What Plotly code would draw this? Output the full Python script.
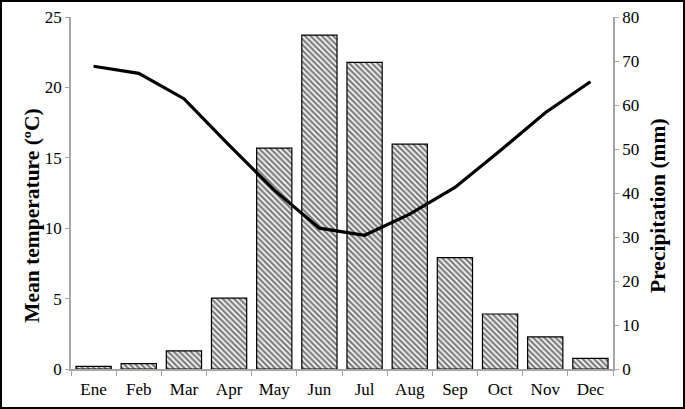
import plotly.graph_objects as go

months = ["Ene", "Feb", "Mar", "Apr", "May", "Jun", "Jul", "Aug", "Sep", "Oct", "Nov", "Dec"]
precipitation = [0.6, 1.2, 4.1, 16.1, 50.2, 75.9, 69.7, 51.1, 25.3, 12.5, 7.3, 2.4]
temperature = [21.5, 21.0, 19.2, 15.9, 12.7, 10.0, 9.5, 11.0, 12.9, 15.5, 18.2, 20.4]

FONT = "Liberation Serif, Times New Roman, serif"
AXC = "#a6a6a6"

fig = go.Figure()
# bars on the primary axis (drawn first), line on the overlaying axis (drawn on top)
fig.add_trace(go.Bar(
    x=months, y=precipitation, yaxis="y",
    marker=dict(color="white", line=dict(color="black", width=1.2),
                pattern=dict(shape="\\", fgcolor="black", bgcolor="white", size=4, solidity=0.6)),
    showlegend=False,
))
fig.add_trace(go.Scatter(
    x=months, y=temperature, mode="lines", yaxis="y2",
    line=dict(color="black", width=3.2), showlegend=False,
))

fig.update_layout(
    width=685, height=409,
    margin=dict(l=71, r=72, t=17, b=40),
    paper_bgcolor="white", plot_bgcolor="white",
    font=dict(family=FONT, size=17, color="black"),
    bargap=0.22,
    xaxis=dict(showline=True, linecolor=AXC, linewidth=1.5, ticks="outside", tickcolor=AXC,
               ticklen=5, tickson="boundaries", showgrid=False, automargin=False,
               ticklabelstandoff=4, tickfont=dict(size=17)),
    yaxis=dict(range=[0, 80], dtick=10, side="right", showline=True,
               linecolor=AXC, linewidth=1.5, ticks="outside", tickcolor=AXC, ticklen=4,
               showgrid=False, zeroline=False, automargin=False),
    yaxis2=dict(range=[0, 25], dtick=5, overlaying="y", side="left", showline=True,
                linecolor=AXC, linewidth=1.5, ticks="outside", tickcolor=AXC, ticklen=4,
                showgrid=False, zeroline=False, automargin=False),
    annotations=[
        dict(text="<b>Mean temperature (ºC)</b>", textangle=-90, xref="paper", yref="paper",
             x=-0.072, y=0.435, showarrow=False, font=dict(size=21.5),
             xanchor="center", yanchor="middle"),
        dict(text="<b>Precipitation (mm)</b>", textangle=-90, xref="paper", yref="paper",
             x=1.083, y=0.466, showarrow=False, font=dict(size=21.5),
             xanchor="center", yanchor="middle"),
    ],
)

frame_js = (
    "document.body.style.margin='0';document.body.style.overflow='hidden';"
    "var f=document.createElement('div');"
    "f.style.cssText='position:fixed;left:0;top:0;width:685px;height:409px;"
    "box-sizing:border-box;border:2px solid black;pointer-events:none;z-index:10000;';"
    "document.body.appendChild(f);"
)
fig.write_html("out.html", config={"displayModeBar": False}, post_script=frame_js)
